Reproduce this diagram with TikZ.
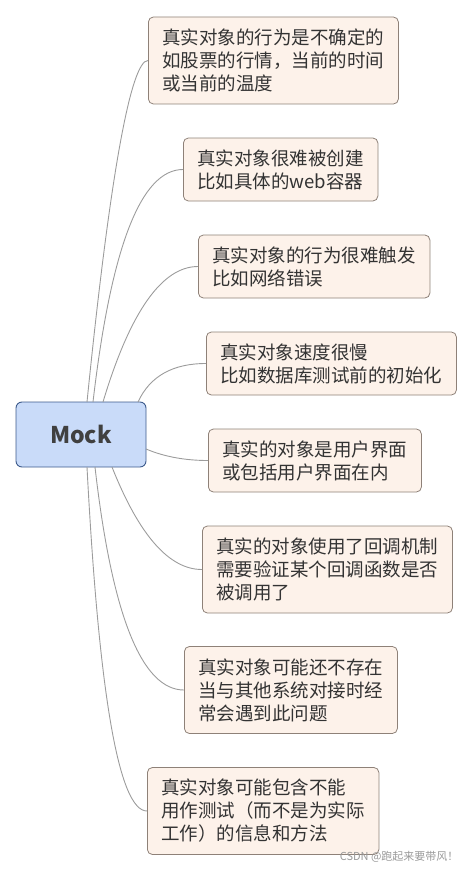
\documentclass[tikz,border=0pt]{standalone}
\usepackage{fontspec}
\setmainfont{Noto Sans CJK SC}
\usepackage{xcolor}
\usepackage{tikz}
\usetikzlibrary{positioning, calc}

\definecolor{rootfill}{HTML}{C9DBF9}
\definecolor{rootline}{HTML}{3D5B8C}
\definecolor{leaffill}{HTML}{FDF2EA}
\definecolor{leafline}{HTML}{8E8178}
\definecolor{branchgray}{HTML}{9C9C9C}
\definecolor{textdark}{HTML}{333333}
\definecolor{rootgray}{HTML}{404040}

\tikzset{
  root/.style={draw=rootline, fill=rootfill, line width=0.9pt, rounded corners=6pt,
    minimum width=130pt, minimum height=65pt, text=rootgray,
    font=\fontsize{23}{28}\selectfont\bfseries},
  leaf/.style={draw=leafline, fill=leaffill, line width=0.8pt, rounded corners=5pt,
    anchor=west, align=left, inner xsep=14pt, minimum height=63pt, text=textdark,
    font=\fontsize{18.5}{23}\selectfont},
  tall/.style={minimum height=87pt},
  branch/.style={draw=branchgray, line width=0.9pt},
  wmark/.style={text=gray!80, font=\fontsize{11}{13}\selectfont, anchor=east}
}

\begin{document}
\begin{tikzpicture}[x=1pt, y=-1pt]
  \useasboundingbox (0,0) rectangle (475,872);

  % Central topic
  \node[root] (mock) at (81,434.5) {Mock};

  % Branch start points on the central topic
  \coordinate (s1) at (87,402);
  \coordinate (s2) at (93,402);
  \coordinate (s3) at (103,402);
  \coordinate (s4) at (138,402);
  \coordinate (s5) at (146,449);
  \coordinate (s6) at (112,467);
  \coordinate (s7) at (95,467);
  \coordinate (s8) at (87,467);

  % Sub topics
  \node[leaf, tall] (b1) at (148,60.5) {真实对象的行为是不确定的\\如股票的行情，当前的时间\\或当前的温度};
  \node[leaf] (b2) at (183,169.5) {真实对象很难被创建\\比如具体的web容器};
  \node[leaf] (b3) at (198,266.5) {真实对象的行为很难触发\\比如网络错误};
  \node[leaf] (b4) at (206,363.5) {真实对象速度很慢\\比如数据库测试前的初始化};
  \node[leaf] (b5) at (208,460.5) {真实的对象是用户界面\\或包括用户界面在内};
  \node[leaf, tall] (b6) at (202,569.5) {真实的对象使用了回调机制\\需要验证某个回调函数是否\\被调用了};
  \node[leaf, tall] (b7) at (184,690) {真实对象可能还不存在\\当与其他系统对接时经\\常会遇到此问题};
  \node[leaf, tall] (b8) at (147,811) {真实对象可能包含不能\\用作测试（而不是为实际\\工作）的信息和方法};

  % Branches
  \draw[branch] (s1) .. controls (110,174) and (131,60.5) .. (b1.west);
  \draw[branch] (s2) .. controls (111,247) and (141,169.5) .. (b2.west);
  \draw[branch] (s3) .. controls (130,312) and (162,266.5) .. (b3.west);
  \draw[branch] (s4) .. controls (150,376) and (173,363.5) .. (b4.west);
  \draw[branch] (s5) .. controls (165,457) and (186,460.5) .. (b5.west);
  \draw[branch] (s6) .. controls (139,535) and (169,569.5) .. (b6.west);
  \draw[branch] (s7) .. controls (112,616) and (142,690) .. (b7.west);
  \draw[branch] (s8) .. controls (99,696) and (119,811) .. (b8.west);

  % Watermark
  \node[wmark] (wm) at (462,857) {CSDN @跑起来要带风！};
\end{tikzpicture}
\end{document}
